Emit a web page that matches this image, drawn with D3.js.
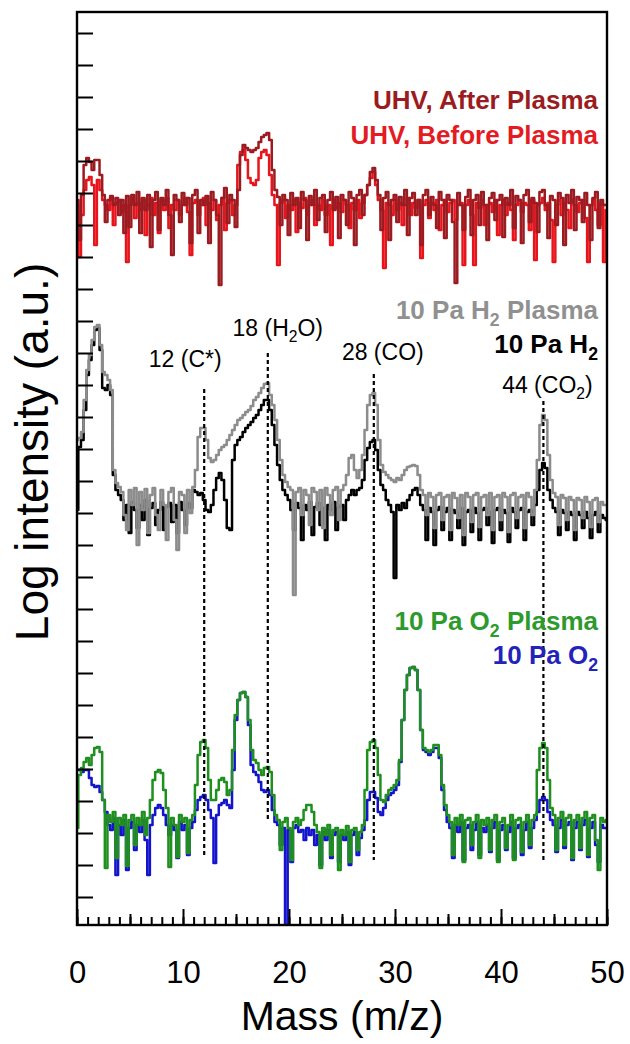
<!DOCTYPE html>
<html>
<head>
<meta charset="utf-8">
<script src="https://cdn.jsdelivr.net/npm/d3@7"></script>
<style>
  body { margin: 0; background: #fff; }
  text { font-family: "Liberation Sans", Arial, sans-serif; }
</style>
</head>
<body>
<div id="chart"></div>
<script>
// traces are sampled every 0.25 m/z, from 0 to 50 (201 points each)
var MASS_STEP = 0.25;

// log intensity, arbitrary units (offset traces)
var uhvAfter = [
  725,685,730,760,767,763,755,765,765,750,730,703,725,729,720,727,710,725,692,729,
  698,730,720,733,692,727,715,730,678,725,733,695,727,720,735,710,670,730,725,703,
  732,720,727,682,730,735,692,725,720,729,682,733,725,710,640,727,737,702,730,725,
  698,735,770,780,777,775,773,775,777,783,788,790,792,785,755,735,728,700,730,725,
  690,732,720,727,697,733,725,685,729,720,735,705,727,730,693,725,733,715,728,687,
  730,725,700,733,727,680,730,735,710,730,740,753,757,745,730,695,727,733,685,725,
  730,703,728,720,735,690,727,732,710,725,680,730,735,710,728,720,697,733,725,687,
  730,725,703,642,732,720,695,728,735,690,725,730,700,733,720,685,727,732,705,725,
  730,688,727,720,735,697,729,725,682,730,735,703,727,722,693,733,735,720,687,729,
  725,700,732,727,680,730,722,735,695,728,725,703,732,720,685,727,733,697,725,720,
  720];

var uhvBefore = [
  720,668,710,735,745,748,740,680,745,735,725,720,715,727,700,722,725,713,720,663,
  720,727,707,722,715,725,690,720,727,710,722,692,725,715,727,697,720,715,725,710,
  720,727,713,670,722,725,710,720,727,700,722,715,725,705,720,727,695,722,725,710,
  720,760,773,775,765,747,742,740,745,767,773,775,770,750,730,720,660,722,725,707,
  720,715,725,693,722,717,727,710,720,725,700,720,715,725,710,720,680,725,717,722,
  713,725,720,697,722,715,725,707,722,730,740,747,753,740,725,715,657,722,720,710,
  725,715,722,700,720,727,710,722,717,725,667,720,725,707,722,715,725,695,720,725,
  713,722,725,705,720,722,660,720,725,710,660,722,717,725,700,720,722,713,725,690,
  720,725,710,722,715,685,720,725,713,722,720,695,725,665,720,722,727,715,722,705,
  663,720,725,710,722,715,697,725,720,713,722,725,707,663,720,725,715,700,722,663,
  715];

var h2Plasma = [
  485,487,493,525,555,570,585,598,600,580,553,550,545,535,455,442,438,433,410,395,
  435,420,437,380,433,415,436,392,430,437,410,395,435,420,385,433,437,405,375,433,
  430,392,435,412,438,455,488,497,497,485,467,463,465,470,475,478,480,485,490,495,
  500,505,507,510,513,515,519,525,528,532,537,541,542,530,520,505,485,465,450,443,
  438,435,330,433,437,410,435,430,400,437,433,415,435,397,437,430,410,435,438,405,
  435,440,450,467,470,455,447,455,470,495,520,530,532,520,485,460,453,450,447,445,
  443,447,445,450,455,458,459,460,459,450,435,430,410,432,428,397,430,432,405,428,
  430,395,432,427,407,430,390,432,428,403,430,432,398,428,430,410,432,395,428,430,
  405,432,428,393,430,432,407,428,430,397,432,428,410,435,465,500,510,505,470,445,
  432,428,400,430,427,405,428,425,395,427,425,407,428,423,398,425,427,403,423,420,
  420];

var h2Gas = [
  415,478,485,515,550,565,580,595,597,575,537,535,540,530,450,435,430,425,405,420,
  392,423,415,397,420,405,425,390,417,422,400,415,423,395,418,422,403,420,392,423,
  415,400,422,417,435,433,430,432,425,415,413,420,435,447,452,445,425,397,395,465,
  480,485,488,493,497,500,503,507,510,515,520,525,525,515,500,480,460,445,435,430,
  425,415,395,422,417,385,420,415,423,390,418,422,400,417,385,420,415,423,395,418,
  420,405,425,430,435,430,435,437,445,465,477,483,485,475,455,440,435,425,420,413,
  347,420,415,422,417,425,430,435,437,430,420,415,385,417,413,380,415,418,395,413,
  417,385,415,412,397,417,380,413,415,393,417,412,385,415,417,400,413,382,415,417,
  395,415,412,383,417,413,397,415,417,385,413,415,400,420,435,455,462,457,435,425,
  417,413,390,415,412,395,413,410,385,413,410,397,413,407,387,410,413,393,410,407,
  405];

var o2Plasma = [
  97,150,157,163,167,160,170,177,178,173,125,57,110,103,113,67,107,100,110,59,
  105,110,80,107,100,113,90,107,125,145,153,155,152,135,117,58,107,100,68,110,
  103,107,72,105,110,140,170,183,185,177,145,125,125,135,145,147,143,130,135,175,
  210,225,232,233,228,205,175,165,162,155,150,157,158,153,130,110,105,75,103,107,
  97,65,103,107,100,105,115,120,120,113,100,93,57,97,90,100,70,95,97,55,
  95,90,99,63,95,97,75,93,100,135,175,183,185,177,150,125,123,130,135,137,
  140,145,165,205,235,250,257,258,255,235,195,177,175,173,175,180,180,170,140,120,
  110,103,70,107,100,110,63,105,107,80,103,110,67,105,100,107,75,105,110,63,
  103,107,77,100,110,65,105,107,73,103,110,80,105,110,155,177,182,177,145,117,
  110,75,107,113,80,107,110,67,105,110,77,107,113,70,107,110,85,55,107,103,
  105];

var o2Gas = [
  155,155,153,155,155,147,140,138,139,133,125,113,100,95,107,50,100,90,105,55,
  97,103,75,100,93,105,85,50,100,110,117,120,117,110,100,90,100,95,67,103,
  95,100,70,97,103,115,125,128,130,125,115,107,62,110,120,122,125,120,117,155,
  205,225,232,233,228,200,160,153,150,143,135,133,135,130,115,103,100,80,97,0,
  95,63,97,100,93,95,85,97,90,95,80,90,60,93,85,95,67,90,93,63,
  90,85,93,60,90,93,70,87,95,105,125,133,133,127,113,110,117,125,130,132,
  135,140,163,205,235,250,257,258,255,235,195,175,173,170,173,177,177,167,135,115,
  103,97,67,100,93,103,65,97,100,75,95,103,70,97,93,100,73,97,103,65,
  95,100,75,93,103,67,97,100,70,95,103,77,97,105,113,125,128,125,113,105,
  100,73,97,105,77,100,103,65,97,103,75,100,105,68,97,103,80,63,100,97,
  97];

// series, drawn back to front
var seriesNames = ["UHV, Before Plasma", "UHV, After Plasma", "10 Pa H_2", "10 Pa H_2 Plasma", "10 Pa O_2", "10 Pa O_2 Plasma"];
var seriesData = [uhvBefore, uhvAfter, h2Gas, h2Plasma, o2Gas, o2Plasma];
var seriesColors = ["#e8141c", "#9c1b20", "#000000", "#8c8c8c", "#1414cc", "#1f8f1f"];
var labelColors = ["#e41b22", "#9b1c20", "#000000", "#909090", "#2323bb", "#2c9a2c"];

// marked peaks
var peakMass = [12, 18, 28, 44];
var peakNames = ["12 (C*)", "18 (H_2O)", "28 (CO)", "44 (CO_2)"];
var peakTop = [536, 572, 551, 524];
var peakBottom = [67, 103, 65, 63];

var xTickLabels = [0, 10, 20, 30, 40, 50];

// layout
var W = 630, H = 1044;
var LEFT = 77, RIGHT = 607, TOP = 12, BOTTOM = 925;
var legendY = [144, 109, 353, 319, 664, 630];
var peakDx = [-19, 10, 9, 4];
var peakLabelY = [367, 336, 360, 393];

var svg = d3.select("#chart").append("svg")
    .attr("width", W)
    .attr("height", H);

var x = d3.scaleLinear().domain([0, 50]).range([LEFT, RIGHT]);
var y = d3.scaleLinear().domain([0, BOTTOM - TOP]).range([BOTTOM, TOP]);

svg.append("defs").append("clipPath").attr("id", "plotclip")
  .append("rect")
    .attr("x", LEFT).attr("y", TOP)
    .attr("width", RIGHT - LEFT).attr("height", BOTTOM - TOP);

// writes "H_2" style text with subscripts
function richText(sel, str, size) {
  var parts = str.split(/_(\d)/);
  parts.forEach(function(p, i) {
    if (p === "") return;
    if (i % 2 == 1) {
      sel.append("tspan").attr("dy", size * 0.28).attr("font-size", size * 0.68).text(p);
    } else {
      var t = sel.append("tspan").text(p);
      if (i > 0) t.attr("dy", -size * 0.28);
    }
  });
}

// traces
var line = d3.line()
    .x(function(d, i) { return x(i * MASS_STEP); })
    .y(function(d) { return y(d); })
    .curve(d3.curveStep);

var plot = svg.append("g").attr("clip-path", "url(#plotclip)");
for (var i = 0; i < seriesData.length; i++) {
  plot.append("path")
    .datum(seriesData[i])
    .attr("d", line)
    .attr("fill", "none")
    .attr("stroke", seriesColors[i])
    .attr("stroke-width", 2.5)
    .attr("stroke-linejoin", "round");
}

// dotted peak markers
for (var i = 0; i < peakMass.length; i++) {
  svg.append("line")
    .attr("x1", x(peakMass[i])).attr("x2", x(peakMass[i]))
    .attr("y1", y(peakTop[i])).attr("y2", y(peakBottom[i]))
    .attr("stroke", "#000")
    .attr("stroke-width", 2.2)
    .attr("stroke-dasharray", "4,3");
  var t = svg.append("text")
    .attr("x", x(peakMass[i]) + peakDx[i])
    .attr("y", peakLabelY[i])
    .attr("text-anchor", "middle")
    .attr("font-size", 23)
    .attr("fill", "#000");
  richText(t, peakNames[i], 23);
}

// series labels
for (var i = 0; i < seriesNames.length; i++) {
  var t = svg.append("text")
    .attr("x", 598)
    .attr("y", legendY[i])
    .attr("text-anchor", "end")
    .attr("font-size", 26)
    .attr("font-weight", "bold")
    .attr("fill", labelColors[i]);
  richText(t, seriesNames[i], 26);
}

// axes
var xMinor = d3.axisBottom(x).tickValues(d3.range(0, 51, 1)).tickSize(-8).tickFormat("");
var xMid = d3.axisBottom(x).tickValues(d3.range(5, 50, 10)).tickSize(-11).tickFormat("");
var xMajor = d3.axisBottom(x).tickValues(xTickLabels).tickSize(-16).tickPadding(36);
[xMinor, xMid, xMajor].forEach(function(ax) {
  var g = svg.append("g").attr("transform", "translate(0," + BOTTOM + ")").call(ax);
  g.select(".domain").remove();
  g.selectAll("line").attr("stroke", "#000").attr("stroke-width", 2);
  g.selectAll("text").attr("font-size", 31).attr("fill", "#000")
    .attr("font-family", "'Liberation Sans', Arial, sans-serif");
});

var yAxis = d3.axisLeft(y).tickValues(d3.range(28, 900, 32)).tickSize(-16).tickFormat("");
var gy = svg.append("g").attr("transform", "translate(" + LEFT + ",0)").call(yAxis);
gy.select(".domain").remove();
gy.selectAll("line").attr("stroke", "#000").attr("stroke-width", 2);

svg.append("rect")
  .attr("x", LEFT).attr("y", TOP)
  .attr("width", RIGHT - LEFT).attr("height", BOTTOM - TOP)
  .attr("fill", "none")
  .attr("stroke", "#000")
  .attr("stroke-width", 2.4);

svg.append("text")
  .attr("x", (LEFT + RIGHT) / 2)
  .attr("y", 1030)
  .attr("text-anchor", "middle")
  .attr("font-size", 41)
  .text("Mass (m/z)");

svg.append("text")
  .attr("transform", "translate(48,452) rotate(-90)")
  .attr("text-anchor", "middle")
  .attr("font-size", 46)
  .text("Log intensity (a.u.)");
</script>
</body>
</html>
